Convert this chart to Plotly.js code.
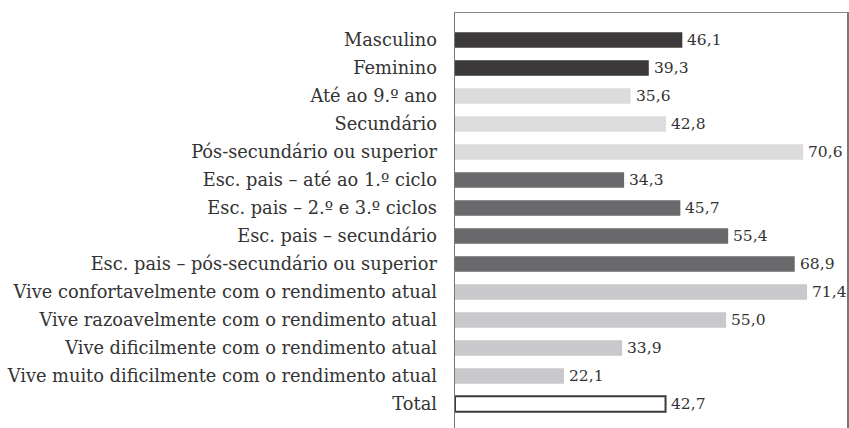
<!DOCTYPE html>
<html>
<head>
<meta charset="utf-8">
<script src="https://cdn.plot.ly/plotly-3.0.1.min.js"></script>
<style>html,body{margin:0;padding:0;background:#fff;}#chart{width:849px;height:428px;}</style>
</head>
<body>
<div id="chart"></div>
<script>
const categories = [
  "Masculino",
  "Feminino",
  "Até ao 9.º ano",
  "Secundário",
  "Pós-secundário ou superior",
  "Esc. pais – até ao 1.º ciclo",
  "Esc. pais – 2.º e 3.º ciclos",
  "Esc. pais – secundário",
  "Esc. pais – pós-secundário ou superior",
  "Vive confortavelmente com o rendimento atual",
  "Vive razoavelmente com o rendimento atual",
  "Vive dificilmente com o rendimento atual",
  "Vive muito dificilmente com o rendimento atual",
  "Total"
];
const values = [46.1, 39.3, 35.6, 42.8, 70.6, 34.3, 45.7, 55.4, 68.9, 71.4, 55.0, 33.9, 22.1, 42.7];
const groups = ["sexo","sexo","esc","esc","esc","pais","pais","pais","pais","rend","rend","rend","rend","total"];
const groupColors = {sexo:"#3b393a", esc:"#dcdcdd", pais:"#69696c", rend:"#c9c9cc", total:"#ffffff"};
const groupLines = {sexo:"rgba(0,0,0,0)", esc:"rgba(0,0,0,0)", pais:"rgba(0,0,0,0)", rend:"rgba(0,0,0,0)", total:"#3a3a3a"};

const fontFam = "DejaVu Serif";
const fmt = v => v.toFixed(1).replace(".", ",");

const trace = {
  type: "bar",
  orientation: "h",
  x: values,
  y: categories,
  width: 0.55,
  marker: {
    color: groups.map(g => groupColors[g]),
    line: {color: groups.map(g => groupLines[g]), width: groups.map(g => g === "total" ? 2 : 0)}
  },
  hoverinfo: "none"
};

const annotations = values.map((v, i) => ({
  x: v, y: categories[i], xref: "x", yref: "y",
  text: fmt(v), showarrow: false, xanchor: "left", yanchor: "middle",
  xshift: 3, font: {family: fontFam, size: 15.5, color: "#333"}
}));

const layout = {
  width: 849, height: 428,
  margin: {l: 455, r: 2, t: 13, b: 0},
  paper_bgcolor: "#fff", plot_bgcolor: "#fff",
  showlegend: false,
  xaxis: {
    range: [0, 79.5], side: "top", showticklabels: false, ticks: "",
    showgrid: false, zeroline: false, showline: true, linecolor: "#8a8a8a", linewidth: 1.5
  },
  yaxis: {
    autorange: false, range: [13.857, -0.964], type: "category",
    showline: true, mirror: true, linecolor: "#777", linewidth: 1.5,
    ticks: "", ticklabelstandoff: 13, showgrid: false, zeroline: false,
    tickfont: {family: fontFam, size: 17.8, color: "#333"}
  },
  annotations: annotations
};

Plotly.newPlot("chart", [trace], layout, {displayModeBar: false, staticPlot: true});
</script>
</body>
</html>
